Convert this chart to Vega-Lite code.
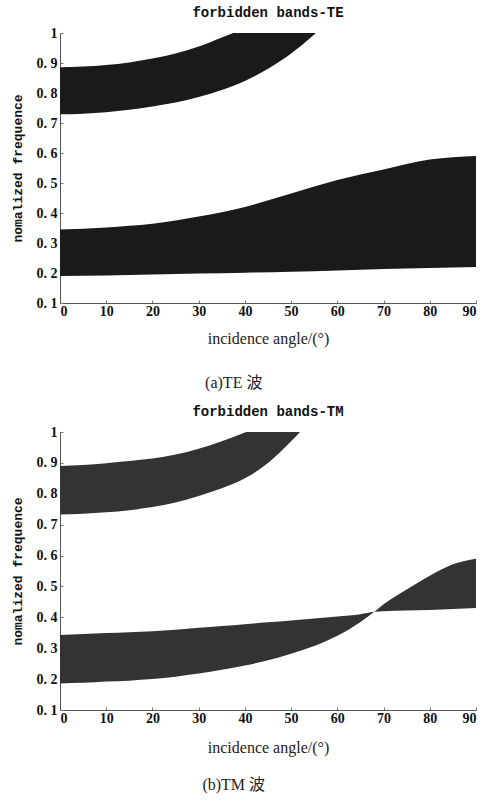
{
  "$schema": "https://vega.github.io/schema/vega-lite/v6.json",
  "background": "white",
  "padding": {"left": 11, "top": 6, "right": 4, "bottom": 4},
  "spacing": 14,
  "datasets": {
    "te": [
      {"angle": 0, "band": "upper", "lo": 0.729, "hi": 0.886},
      {"angle": 5, "band": "upper", "lo": 0.731, "hi": 0.888},
      {"angle": 10, "band": "upper", "lo": 0.736, "hi": 0.893},
      {"angle": 15, "band": "upper", "lo": 0.744, "hi": 0.902},
      {"angle": 20, "band": "upper", "lo": 0.755, "hi": 0.915},
      {"angle": 25, "band": "upper", "lo": 0.768, "hi": 0.932},
      {"angle": 30, "band": "upper", "lo": 0.787, "hi": 0.955},
      {"angle": 35, "band": "upper", "lo": 0.81, "hi": 0.985},
      {"angle": 40, "band": "upper", "lo": 0.84, "hi": 1.015},
      {"angle": 45, "band": "upper", "lo": 0.881, "hi": 1.045},
      {"angle": 50, "band": "upper", "lo": 0.932, "hi": 1.075},
      {"angle": 55, "band": "upper", "lo": 0.995, "hi": 1.1},
      {"angle": 60, "band": "upper", "lo": 1.07, "hi": 1.13},
      {"angle": 0, "band": "lower", "lo": 0.19, "hi": 0.345},
      {"angle": 10, "band": "lower", "lo": 0.192, "hi": 0.352},
      {"angle": 20, "band": "lower", "lo": 0.195, "hi": 0.364},
      {"angle": 30, "band": "lower", "lo": 0.198, "hi": 0.388},
      {"angle": 40, "band": "lower", "lo": 0.201, "hi": 0.42},
      {"angle": 50, "band": "lower", "lo": 0.204, "hi": 0.465},
      {"angle": 60, "band": "lower", "lo": 0.208, "hi": 0.51},
      {"angle": 70, "band": "lower", "lo": 0.213, "hi": 0.545},
      {"angle": 80, "band": "lower", "lo": 0.217, "hi": 0.578},
      {"angle": 90, "band": "lower", "lo": 0.22, "hi": 0.59}
    ],
    "tm": [
      {"angle": 0, "band": "upper", "lo": 0.733, "hi": 0.89},
      {"angle": 5, "band": "upper", "lo": 0.735, "hi": 0.893},
      {"angle": 10, "band": "upper", "lo": 0.74, "hi": 0.899},
      {"angle": 15, "band": "upper", "lo": 0.747, "hi": 0.906},
      {"angle": 20, "band": "upper", "lo": 0.757, "hi": 0.914},
      {"angle": 25, "band": "upper", "lo": 0.772, "hi": 0.927},
      {"angle": 30, "band": "upper", "lo": 0.793, "hi": 0.946},
      {"angle": 35, "band": "upper", "lo": 0.818, "hi": 0.97},
      {"angle": 40, "band": "upper", "lo": 0.85, "hi": 0.998},
      {"angle": 45, "band": "upper", "lo": 0.9, "hi": 1.03},
      {"angle": 50, "band": "upper", "lo": 0.97, "hi": 1.06},
      {"angle": 55, "band": "upper", "lo": 1.05, "hi": 1.1},
      {"angle": 0, "band": "lower", "lo": 0.186, "hi": 0.343},
      {"angle": 5, "band": "lower", "lo": 0.188, "hi": 0.346},
      {"angle": 10, "band": "lower", "lo": 0.192, "hi": 0.349},
      {"angle": 15, "band": "lower", "lo": 0.195, "hi": 0.352},
      {"angle": 20, "band": "lower", "lo": 0.2, "hi": 0.355},
      {"angle": 25, "band": "lower", "lo": 0.208, "hi": 0.36},
      {"angle": 30, "band": "lower", "lo": 0.218, "hi": 0.366},
      {"angle": 35, "band": "lower", "lo": 0.23, "hi": 0.372},
      {"angle": 40, "band": "lower", "lo": 0.244, "hi": 0.378},
      {"angle": 45, "band": "lower", "lo": 0.261, "hi": 0.384},
      {"angle": 50, "band": "lower", "lo": 0.282, "hi": 0.39},
      {"angle": 55, "band": "lower", "lo": 0.307, "hi": 0.396},
      {"angle": 60, "band": "lower", "lo": 0.34, "hi": 0.403},
      {"angle": 65, "band": "lower", "lo": 0.385, "hi": 0.41},
      {"angle": 68, "band": "lower", "lo": 0.418, "hi": 0.418},
      {"angle": 70, "band": "lower", "lo": 0.442, "hi": 0.42},
      {"angle": 75, "band": "lower", "lo": 0.49, "hi": 0.422},
      {"angle": 80, "band": "lower", "lo": 0.535, "hi": 0.424},
      {"angle": 85, "band": "lower", "lo": 0.572, "hi": 0.427},
      {"angle": 90, "band": "lower", "lo": 0.59, "hi": 0.43}
    ]
  },
  "config": {
    "view": {"stroke": null},
    "axis": {
      "grid": false,
      "domainColor": "#555",
      "tickColor": "#777",
      "tickSize": -3,
      "labelFont": "Liberation Serif",
      "labelFontWeight": "bold",
      "labelFontSize": 14,
      "labelColor": "#111"
    },
    "concat": {"spacing": 0}
  },
  "vconcat": [
    {
      "title": {
        "text": "(a)TE 波",
        "orient": "bottom",
        "anchor": "middle",
        "dx": -10,
        "font": "Liberation Serif, Noto Sans CJK SC",
        "fontSize": 16,
        "fontWeight": "normal",
        "color": "#222",
        "offset": 29
      },
      "vconcat": [
        {
          "title": {
            "text": "forbidden bands-TE",
            "font": "Liberation Mono",
            "fontSize": 14,
            "fontWeight": "bold",
            "color": "#111",
            "offset": 6
          },
          "width": 416,
          "height": 270,
          "data": {"name": "te"},
          "mark": {"type": "area", "color": "#1a1a1a", "clip": true, "interpolate": "monotone"},
          "encoding": {
            "detail": {"field": "band"},
            "x": {
              "field": "angle",
              "type": "quantitative",
              "scale": {"domain": [0, 90], "nice": false},
              "axis": {
                "values": [0, 10, 20, 30, 40, 50, 60, 70, 80, 90],
                "title": "incidence angle/(°)",
                "titleFont": "Liberation Serif",
                "titleFontSize": 16,
                "titleFontWeight": "normal",
                "titleColor": "#222",
                "titlePadding": 12,
                "labelPadding": 4
              }
            },
            "y": {
              "field": "lo",
              "type": "quantitative",
              "scale": {"domain": [0.1, 1], "nice": false},
              "axis": {
                "values": [0.1, 0.2, 0.3, 0.4, 0.5, 0.6, 0.7, 0.8, 0.9, 1],
                "format": "~g",
                "labelExpr": "replace(datum.label, '.', '. ')",
                "title": "nomalized frequence",
                "titleFont": "Liberation Mono",
                "titleFontSize": 13,
                "titleFontWeight": "bold",
                "titleColor": "#111",
                "titlePadding": 12,
                "labelPadding": 6
              }
            },
            "y2": {"field": "hi"}
          }
        }
      ]
    },
    {
      "title": {
        "text": "(b)TM 波",
        "orient": "bottom",
        "anchor": "middle",
        "dx": -10,
        "font": "Liberation Serif, Noto Sans CJK SC",
        "fontSize": 16,
        "fontWeight": "normal",
        "color": "#222",
        "offset": 22
      },
      "vconcat": [
        {
          "title": {
            "text": "forbidden bands-TM",
            "font": "Liberation Mono",
            "fontSize": 14,
            "fontWeight": "bold",
            "color": "#111",
            "offset": 6
          },
          "width": 416,
          "height": 278,
          "data": {"name": "tm"},
          "mark": {"type": "area", "color": "#333333", "clip": true, "interpolate": "monotone"},
          "encoding": {
            "detail": {"field": "band"},
            "x": {
              "field": "angle",
              "type": "quantitative",
              "scale": {"domain": [0, 90], "nice": false},
              "axis": {
                "values": [0, 10, 20, 30, 40, 50, 60, 70, 80, 90],
                "title": "incidence angle/(°)",
                "titleFont": "Liberation Serif",
                "titleFontSize": 16,
                "titleFontWeight": "normal",
                "titleColor": "#222",
                "titlePadding": 14,
                "labelPadding": 4
              }
            },
            "y": {
              "field": "lo",
              "type": "quantitative",
              "scale": {"domain": [0.1, 1], "nice": false},
              "axis": {
                "values": [0.1, 0.2, 0.3, 0.4, 0.5, 0.6, 0.7, 0.8, 0.9, 1],
                "format": "~g",
                "labelExpr": "replace(datum.label, '.', '. ')",
                "title": "nomalized frequence",
                "titleFont": "Liberation Mono",
                "titleFontSize": 13,
                "titleFontWeight": "bold",
                "titleColor": "#111",
                "titlePadding": 12,
                "labelPadding": 6
              }
            },
            "y2": {"field": "hi"}
          }
        }
      ]
    }
  ]
}
